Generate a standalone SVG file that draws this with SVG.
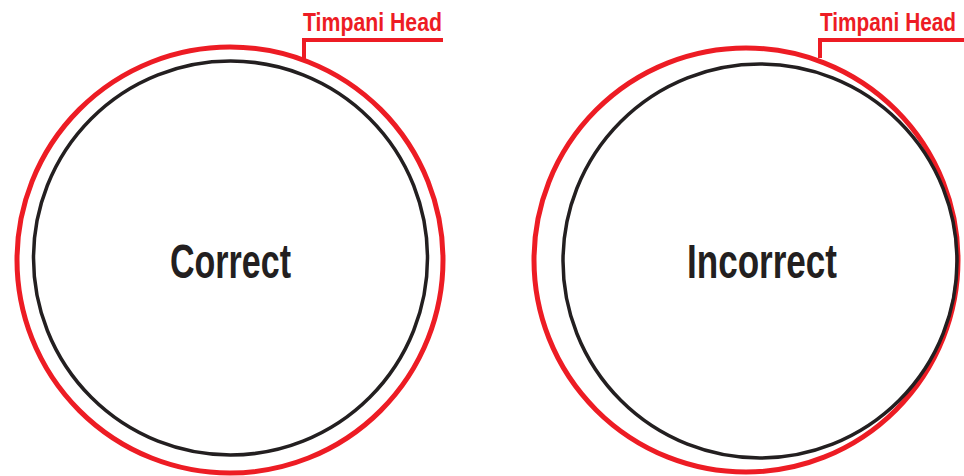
<svg xmlns="http://www.w3.org/2000/svg" width="964" height="476" viewBox="0 0 964 476">
  <style>
    .head { fill: none; stroke: #ed1c24; stroke-width: 5; }
    .shell { fill: none; stroke: #231f20; stroke-width: 3.5; }
    .leader { fill: none; stroke: #ed1c24; stroke-width: 4; stroke-linejoin: miter; }
    .lbl { font-family: "Liberation Sans Narrow", "Liberation Sans", Arial, sans-serif; font-size: 25px; font-weight: bold; fill: #ed1c24; }
    .big { font-family: "Liberation Sans Narrow", "Liberation Sans", Arial, sans-serif; font-size: 49px; font-weight: bold; fill: #231f20; }
  </style>
  <rect width="964" height="476" fill="#ffffff"/>
  <g id="correct">
    <circle class="head" cx="230" cy="260" r="213"/>
    <circle class="shell" cx="230.5" cy="258" r="197"/>
    <text class="big" x="170" y="278" textLength="121" lengthAdjust="spacingAndGlyphs">Correct</text>
  </g>
  <g id="incorrect">
    <circle class="head" cx="746" cy="260" r="212"/>
    <circle class="shell" cx="760" cy="261" r="197"/>
    <text class="big" x="687" y="278" textLength="150" lengthAdjust="spacingAndGlyphs">Incorrect</text>
  </g>
  <g id="label-left">
    <text class="lbl" x="303" y="31" textLength="139" lengthAdjust="spacingAndGlyphs">Timpani Head</text>
  </g>
  <g id="label-right">
    <text class="lbl" x="956" y="31" text-anchor="end" textLength="136" lengthAdjust="spacingAndGlyphs">Timpani Head</text>
  </g>
  <g id="connectors">
    <polyline class="leader" points="304,59 304,40 443,40"/>
    <polyline class="leader" points="820,58 820,40 964,40"/>
  </g>
</svg>
